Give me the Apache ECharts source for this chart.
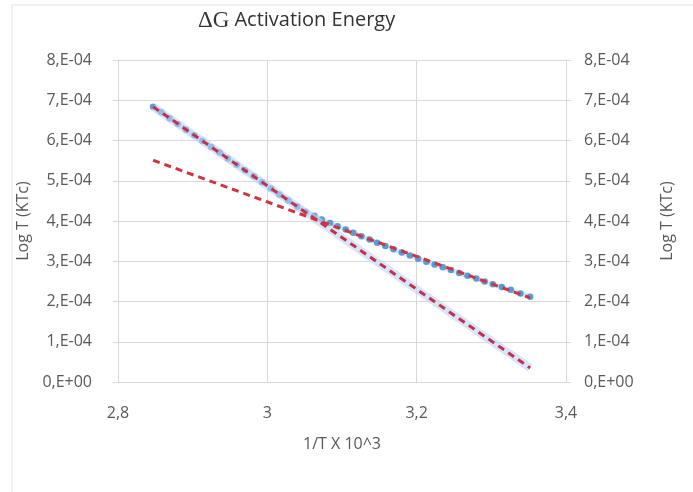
<!DOCTYPE html>
<html>
<head>
<meta charset="utf-8">
<script src="https://cdn.jsdelivr.net/npm/echarts@6/dist/echarts.min.js"></script>
<style>
  html, body { margin: 0; padding: 0; background: #fff; }
  #main { width: 693px; height: 492px; }
</style>
</head>
<body>
<div id="main"></div>
<script>
// measured points, 1/T x 10^3 against Log T (KTc)
const invT = [
  2.847, 2.858, 2.869, 2.880, 2.891, 2.902, 2.913, 2.925, 2.936, 2.947,
  2.959, 2.970, 2.982, 2.993, 3.005, 3.016, 3.028, 3.040, 3.051,
  3.063, 3.073, 3.084, 3.094, 3.105, 3.115, 3.126, 3.137, 3.147, 3.158,
  3.169, 3.180, 3.191, 3.202, 3.213, 3.224, 3.235, 3.246, 3.257, 3.268,
  3.280, 3.291, 3.302, 3.314, 3.326, 3.339, 3.352
];
const logT = [
  6.84e-4, 6.70e-4, 6.55e-4, 6.41e-4, 6.27e-4, 6.13e-4, 5.99e-4, 5.84e-4, 5.70e-4, 5.55e-4,
  5.40e-4, 5.26e-4, 5.11e-4, 4.96e-4, 4.81e-4, 4.66e-4, 4.51e-4, 4.36e-4, 4.23e-4,
  4.13e-4, 4.04e-4, 3.95e-4, 3.87e-4, 3.79e-4, 3.71e-4, 3.62e-4, 3.54e-4, 3.46e-4, 3.38e-4,
  3.30e-4, 3.22e-4, 3.14e-4, 3.06e-4, 2.99e-4, 2.92e-4, 2.85e-4, 2.78e-4, 2.71e-4, 2.64e-4,
  2.57e-4, 2.50e-4, 2.43e-4, 2.36e-4, 2.29e-4, 2.20e-4, 2.12e-4
];

// the two linear trend lines
const trendX = [2.847, 3.352];
const steepTrend = [6.84e-4, 0.35e-4];
const flatTrend = [5.51e-4, 2.09e-4];

const xTicks = [2.8, 3.0, 3.2, 3.4];
const yTicks = [0, 1e-4, 2e-4, 3e-4, 4e-4, 5e-4, 6e-4, 7e-4, 8e-4];

const pairs = (xs, ys) => xs.map((x, i) => [x, ys[i]]);

const labelColor = '#595959';
const gridColor = '#D9D9D9';
const font = 'Open Sans';

const yLabel = (v) => {
  if (Math.abs(v) < 1e-9) return '0,E+00';
  return Math.round(v * 1e4) + ',E-04';
};
const xLabel = (v) => String(+v.toFixed(1)).replace('.', ',');

function yAxisFor(position, gap, margin) {
  return {
    type: 'value',
    position: position,
    min: yTicks[0],
    max: yTicks[yTicks.length - 1],
    interval: 1e-4,
    name: 'Log T (KTc)',
    nameLocation: 'middle',
    nameGap: gap,
    nameTextStyle: { color: labelColor, fontFamily: font, fontSize: 16 },
    axisLine: { show: true, lineStyle: { color: gridColor } },
    axisTick: { show: true, length: 5, lineStyle: { color: gridColor } },
    axisLabel: { color: labelColor, fontFamily: font, fontSize: 16, margin: margin, formatter: yLabel },
    splitLine: { show: position === 'left', lineStyle: { color: gridColor } }
  };
}

let options = {
  backgroundColor: '#fff',
  animation: false,
  title: {
    text: '{d|ΔG} {t|Activation Energy}',
    left: 193,
    top: 4,
    textStyle: {
      fontWeight: 'normal',
      rich: {
        d: { fontFamily: 'Liberation Serif', fontSize: 23, fontWeight: 'normal', color: '#333333' },
        t: { fontFamily: font, fontSize: 20, fontWeight: 'normal', color: '#333333' }
      }
    }
  },
  graphic: [
    { type: 'line', shape: { x1: 12, y1: 5, x2: 693, y2: 5 }, style: { stroke: '#E3E3E3', lineWidth: 1 } },
    { type: 'line', shape: { x1: 12, y1: 5, x2: 12, y2: 492 }, style: { stroke: '#E3E3E3', lineWidth: 1 } }
  ],
  grid: { left: 118, right: 127, top: 60, bottom: 110 },
  xAxis: {
    type: 'value',
    min: xTicks[0],
    max: xTicks[xTicks.length - 1],
    interval: 0.2,
    name: '1/T X 10^3',
    nameLocation: 'middle',
    nameGap: 54,
    nameTextStyle: { color: labelColor, fontFamily: font, fontSize: 16 },
    axisLine: { show: true, lineStyle: { color: gridColor } },
    axisTick: { show: false },
    axisLabel: { color: labelColor, fontFamily: font, fontSize: 16, margin: 23, formatter: xLabel },
    splitLine: { show: true, lineStyle: { color: gridColor } }
  },
  yAxis: [yAxisFor('left', 84, 26), yAxisFor('right', 93, 18)],
  series: [
    {
      name: 'data',
      type: 'line',
      data: pairs(invT, logT),
      symbol: 'circle',
      symbolSize: 6.5,
      itemStyle: { color: '#5B9BD5' },
      lineStyle: { color: 'rgba(175,215,240,0.5)', width: 5 },
      z: 2
    },
    {
      name: 'steep glow',
      type: 'line',
      data: pairs(trendX, steepTrend),
      symbol: 'none',
      lineStyle: { color: 'rgba(190,210,245,0.6)', width: 8 },
      z: 3
    },
    {
      name: 'steep trend',
      type: 'line',
      data: pairs(trendX, steepTrend),
      symbol: 'none',
      lineStyle: { color: '#C2304A', width: 3, type: [7, 5] },
      z: 4
    },
    {
      name: 'flat trend',
      type: 'line',
      data: pairs(trendX, flatTrend),
      symbol: 'none',
      lineStyle: { color: '#CF3440', width: 3, type: [7, 5] },
      z: 4
    }
  ]
};

let myChart = echarts.init(document.getElementById('main'), null, { renderer: 'canvas' });
myChart.setOption(options);
</script>
</body>
</html>
